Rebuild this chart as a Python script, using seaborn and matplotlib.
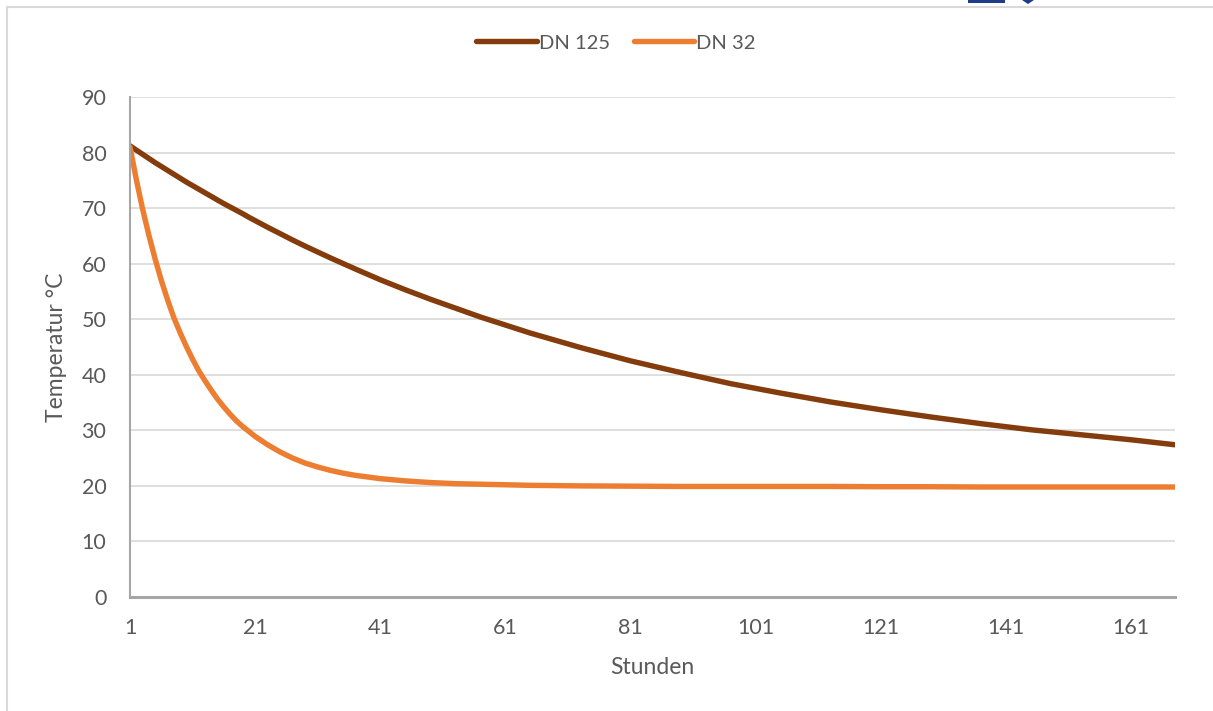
import matplotlib
matplotlib.use("Agg")
import matplotlib.pyplot as plt
from matplotlib.lines import Line2D
from matplotlib.patches import Rectangle, Polygon
import pandas as pd
import seaborn as sns

# Cooling of water in two pipe sizes over one week
hours = [1, 2, 3, 4, 5, 6, 7, 8, 9, 10, 11, 12, 13, 14, 15, 16, 17, 18, 19, 20,
         21, 23, 25, 27, 29, 31, 33, 35, 37, 41, 45, 49, 53, 57,
         65, 73, 81, 89, 97, 105, 113, 121, 129, 137, 145, 153, 161, 168]
dn125 = [81.2, 80.45, 79.7, 78.95, 78.2, 77.5, 76.8, 76.1, 75.4, 74.7, 74.05, 73.4,
         72.75, 72.1, 71.45, 70.8, 70.2, 69.6, 69.0, 68.35,
         67.75, 66.55, 65.4, 64.25, 63.15, 62.1, 61.05, 60.05, 59.05, 57.1, 55.3, 53.6,
         52.0, 50.4, 47.5, 44.9, 42.5, 40.4, 38.4, 36.7, 35.1, 33.7, 32.4, 31.2,
         30.1, 29.2, 28.3, 27.4]
dn32 = [81.0, 75.2, 69.9, 65.2, 60.9, 57.0, 53.5, 50.3, 47.6, 45.1, 42.8, 40.7,
        38.9, 37.2, 35.6, 34.2, 32.9, 31.7, 30.7, 29.8,
        28.9, 27.4, 26.1, 25.0, 24.1, 23.4, 22.8, 22.3, 21.9, 21.3, 20.9, 20.6,
        20.4, 20.3, 20.1, 20.0, 19.95, 19.9, 19.9, 19.9, 19.9, 19.85, 19.85,
        19.8, 19.8, 19.8, 19.8, 19.8]
series_names = ["DN 125", "DN 32"]
series_colors = ["#843C0C", "#ED7D31"]
x_ticks = [1, 21, 41, 61, 81, 101, 121, 141, 161]
y_ticks = [0, 10, 20, 30, 40, 50, 60, 70, 80, 90]

df = pd.DataFrame({
    "Stunden": hours * 2,
    "Temperatur": dn125 + dn32,
    "Serie": [series_names[0]] * len(hours) + [series_names[1]] * len(hours),
})

sns.set_theme(style="white")
plt.rcParams["font.family"] = ["Lato", "DejaVu Sans"]
text_color = "#595959"

fig = plt.figure(figsize=(12.13, 7.11), dpi=100)
ax = fig.add_axes([130 / 1213, 1 - 597 / 711, 1045 / 1213, 500 / 711])

sns.lineplot(data=df, x="Stunden", y="Temperatur", hue="Serie",
             palette=dict(zip(series_names, series_colors)),
             linewidth=3.9, ax=ax, legend=False, sort=True)
for ln in ax.get_lines():
    ln.set_solid_capstyle("round")
    ln.set_solid_joinstyle("round")

ax.set_xlim(1, 168)
ax.set_ylim(0, 90)
ax.set_xticks(x_ticks)
ax.set_yticks(y_ticks)
ax.yaxis.grid(True, color="#D9D9D9", linewidth=1.2)
ax.xaxis.grid(False)
ax.tick_params(axis="both", length=0, labelsize=15.5, colors=text_color)
ax.tick_params(axis="y", pad=17)
ax.tick_params(axis="x", pad=15)
for side in ["top", "right"]:
    ax.spines[side].set_visible(False)
ax.spines["left"].set_color("#A6A6A6")
ax.spines["left"].set_linewidth(1.5)
ax.spines["bottom"].set_color("#A6A6A6")
ax.spines["bottom"].set_linewidth(2.2)
ax.set_axisbelow(True)

ax.set_xlabel("Stunden", fontsize=16.5, color=text_color, va="center")
ax.set_ylabel("Temperatur °C", fontsize=16.5, color=text_color, va="center")
ax.xaxis.set_label_coords(0.5, -0.14)
ax.yaxis.set_label_coords(-0.070, 0.5)

handles = [Line2D([0], [0], color=c, linewidth=3.9, solid_capstyle="round")
           for c in series_colors]
fig.legend(handles, series_names, loc="center", bbox_to_anchor=(616 / 1213, 1 - 43 / 711),
           ncol=2, frameon=False, fontsize=14.5, labelcolor=text_color,
           handlelength=3.0, handletextpad=0.1, columnspacing=1.2)

# outer chart frame and the edge of the toolbar icon above it
fig.add_artist(Line2D([7 / 1213, 7 / 1213], [0, 1 - 7 / 711], color="#D9D9D9", linewidth=1.5))
fig.add_artist(Line2D([7 / 1213, 1], [1 - 7 / 711, 1 - 7 / 711], color="#D9D9D9", linewidth=1.5))
fig.add_artist(Rectangle((968 / 1213, 1 - 3 / 711), 37 / 1213, 3 / 711,
                         transform=fig.transFigure, color="#1F3C88", linewidth=0))
fig.add_artist(Polygon([[1022 / 1213, 1], [1034 / 1213, 1], [1028 / 1213, 1 - 4 / 711]],
                       closed=True, transform=fig.transFigure, color="#1F3C88", linewidth=0))

fig.savefig("out.png", dpi=100, facecolor="white")
